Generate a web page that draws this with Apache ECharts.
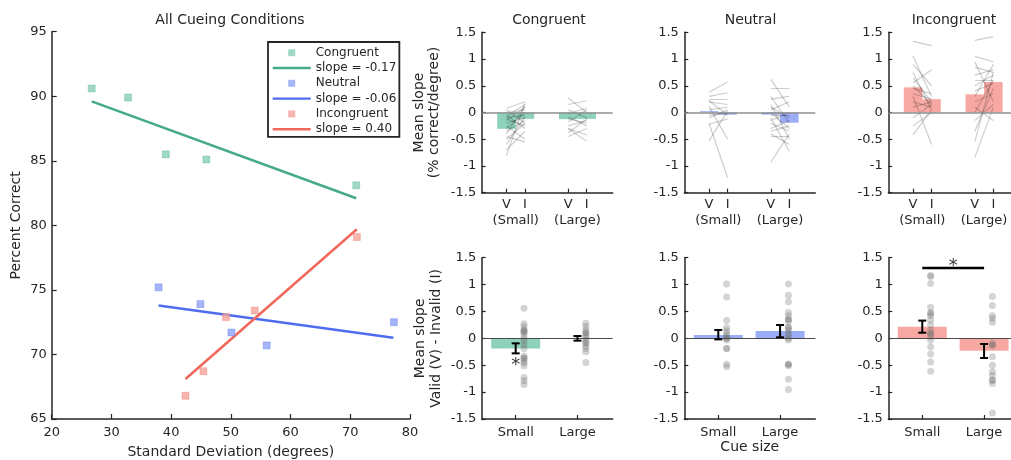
<!DOCTYPE html>
<html>
<head>
<meta charset="utf-8">
<script src="https://cdn.jsdelivr.net/npm/echarts@6/dist/echarts.min.js"></script>
<style>
  html, body { margin: 0; padding: 0; background: #fff; }
  #chart { width: 1011px; height: 460px; }
</style>
</head>
<body>
<div id="chart"></div>
<script>
// ---- left panel: percent correct vs. standard deviation ----
const congSd = [26.7, 32.8, 39.1, 45.9, 71.0];
const congPc = [90.6, 89.9, 85.5, 85.1, 83.1];
const neutSd = [37.9, 44.9, 50.1, 56.0, 77.3];
const neutPc = [75.2, 73.9, 71.7, 70.7, 72.5];
const incSd = [42.4, 45.4, 49.2, 54.0, 71.1];
const incPc = [66.8, 68.7, 72.9, 73.4, 79.1];
// fitted regression lines (end points)
const congFit = [[26.7, 89.6], [71.0, 82.1]];
const neutFit = [[37.9, 73.8], [77.2, 71.3]];
const incFit = [[42.4, 68.1], [71.1, 79.7]];
const condNames = ['Congruent', 'Neutral', 'Incongruent'];
const slopeLabels = ['slope = -0.17', 'slope = -0.06', 'slope = 0.40'];

// ---- top row: mean slope per cue (V, I) and size ----
const topTickPos = [0.85, 1.15, 1.85, 2.15];
const topTickLabels = ['V', 'I', 'V', 'I'];
const topSizeLabels = ['(Small)', '(Large)'];
const meanSlopes = [
  [-0.305, -0.118, -0.125, -0.12],
  [0.025, -0.04, -0.04, -0.19],
  [0.47, 0.25, 0.34, 0.57]
];
// individual subjects (valid, invalid)
const congSmallV = [0.08, 0.05, 0.0, -0.05, -0.08, -0.10, -0.12, -0.15, -0.20, -0.25, -0.30, -0.35, -0.40, -0.45, -0.50, -0.60, -0.70, -0.81];
const congSmallI = [0.20, -0.20, 0.05, -0.30, 0.15, -0.05, -0.25, 0.10, -0.10, -0.50, 0.00, -0.15, 0.12, -0.55, -0.20, -0.08, -0.35, 0.18];
const congLargeV = [0.27, 0.15, 0.05, -0.02, -0.08, -0.12, -0.18, -0.25, -0.30, -0.38, -0.45, -0.30];
const congLargeI = [0.00, 0.22, -0.10, 0.08, -0.25, -0.20, 0.05, -0.15, -0.42, -0.12, -0.30, -0.54];
const neutSmallV = [0.38, 0.30, 0.25, 0.22, 0.20, 0.12, 0.05, -0.05, -0.10, -0.20, -0.22, -0.53];
const neutSmallI = [0.57, 0.37, 0.25, -0.05, 0.15, -0.50, 0.10, -0.02, 0.05, -1.22, -0.12, 0.03];
const neutLargeV = [0.62, 0.45, 0.30, 0.25, 0.15, 0.10, 0.05, 0.00, -0.05, -0.10, -0.15, -0.20, -0.30, -0.40, -0.35, -0.45, -0.93];
const neutLargeI = [0.10, 0.45, -0.20, 0.30, -0.50, -0.10, 0.20, -0.30, -0.05, -0.73, 0.00, -0.35, -0.15, -0.60, -0.25, -0.45, -0.40];
const incSmallV = [1.33, 1.05, 0.90, 0.75, 0.65, 0.55, 0.50, 0.45, 0.35, 0.30, 0.20, 0.10, -0.10, -0.25, -0.42];
const incSmallI = [1.25, 0.30, 0.50, 0.05, 0.20, 0.80, 0.15, 0.35, 0.25, -0.60, 0.10, 0.20, 0.15, 0.00, 0.05];
const incLargeV = [1.35, 1.05, 0.95, 0.85, 0.70, 0.60, 0.50, 0.40, 0.30, 0.20, 0.10, 0.00, -0.15, -0.35, -0.55, -0.84];
const incLargeI = [1.42, 0.95, 0.20, 0.75, 0.80, 0.60, 0.70, 0.55, 0.90, 0.35, -0.15, 0.60, 0.15, 0.45, 0.75, 0.10];

// ---- bottom row: valid - invalid ----
const sizeLabels = ['Small', 'Large'];
const diffMeans = [[-0.19, -0.01], [0.062, 0.136], [0.217, -0.23]];
const errLow = [[-0.279, -0.043], [-0.019, 0.019], [0.105, -0.366]];
const errHigh = [[-0.093, 0.043], [0.155, 0.248], [0.33, -0.105]];
const congSmallDiff = [0.56, 0.27, 0.22, 0.15, 0.15, 0.12, 0.12, 0.06, 0.00, -0.05, -0.12, -0.19, -0.33, -0.37, -0.37, -0.42, -0.46, -0.51, -0.73, -0.79, -0.86];
const congLargeDiff = [0.28, 0.22, 0.155, 0.105, 0.105, 0.056, 0.02, -0.03, -0.08, -0.08, -0.14, -0.19, -0.25, -0.45];
const neutSmallDiff = [1.01, 0.77, 0.33, 0.20, 0.14, 0.09, 0.04, 0.00, 0.00, -0.03, -0.19, -0.19, -0.48, -0.53];
const neutLargeDiff = [1.01, 0.80, 0.68, 0.48, 0.42, 0.35, 0.35, 0.31, 0.20, 0.20, 0.155, 0.09, 0.056, 0.00, -0.03, -0.48, -0.48, -0.51, -0.76, -0.95];
const incSmallDiff = [1.17, 1.15, 1.02, 0.58, 0.47, 0.47, 0.42, 0.34, 0.25, 0.155, 0.09, 0.09, 0.04, -0.03, -0.155, -0.29, -0.44, -0.61];
const incLargeDiff = [0.78, 0.61, 0.42, 0.37, 0.30, -0.09, -0.13, -0.13, -0.34, -0.50, -0.62, -0.69, -0.78, -0.78, -0.84, -1.39];
const sigStar = [[1, -0.40]];          // congruent small
const sigLine = [[1, 1.31], [2, 1.31]]; // incongruent small vs large
const sigLineStar = [[1.5, 1.43]];

const TXT = '#262626';
const lineColors = ['#45aa8a', '#4d6cf0', '#f0685b'];
const markerColors = ['#88cfb4', '#8fa2f6', '#f6a39b'];
const barColors = ['#8dd2b9', '#9badf7', '#f8a8a2'];
const panelLeft = [481.7, 684.3, 888.3];
const X_MIN = 0.45, X_MAX = 2.57;
const DOT_SHIFT = 0.135;

const SQUARE_ICON = 'path://M0,0M38,13M15.5,3L22.5,3L22.5,10L15.5,10Z';
const LINE_ICON = 'path://M0,0M38,13M0,5.3L38,5.3L38,7.7L0,7.7Z';

const leftSets = [
  { sd: congSd, pc: congPc, fit: congFit },
  { sd: neutSd, pc: neutPc, fit: neutFit },
  { sd: incSd, pc: incPc, fit: incFit }
];
const subjects = [
  [[congSmallV, congSmallI], [congLargeV, congLargeI]],
  [[neutSmallV, neutSmallI], [neutLargeV, neutLargeI]],
  [[incSmallV, incSmallI], [incLargeV, incLargeI]]
];
const diffDots = [
  [congSmallDiff, congLargeDiff],
  [neutSmallDiff, neutLargeDiff],
  [incSmallDiff, incLargeDiff]
];

function axisLine() {
  return { show: true, onZero: false, lineStyle: { color: TXT, width: 1.5 } };
}
function axisTick(len, extra) {
  return Object.assign({ show: true, inside: true, length: len, lineStyle: { color: TXT, width: 1.2 } }, extra || {});
}

// 0: left, 1-3: top row, 4-6: bottom row, 7-9: overlays of top row for the size labels
const grid = [{ left: 51.7, top: 31.7, width: 358.3, height: 387.3, outerBoundsMode: 'none' }];
panelLeft.forEach(l => grid.push({ left: l, top: 32.3, width: 131, height: 160.4, outerBoundsMode: 'none' }));
panelLeft.forEach(l => grid.push({ left: l, top: 257.7, width: 131, height: 161.3, outerBoundsMode: 'none' }));
panelLeft.forEach(l => grid.push({ left: l, top: 32.3, width: 131, height: 160.4, outerBoundsMode: 'none' }));

const xAxis = [{
  gridIndex: 0, type: 'value', min: 20, max: 80, interval: 10,
  axisLine: axisLine(), axisTick: axisTick(5), splitLine: { show: false },
  axisLabel: { color: TXT, fontSize: 13, lineHeight: 13, margin: 7.5 },
  name: 'Standard Deviation (degrees)', nameLocation: 'middle', nameGap: 24,
  nameTextStyle: { color: TXT, fontSize: 14, lineHeight: 15 }
}];
const yAxis = [{
  gridIndex: 0, type: 'value', min: 65, max: 95, interval: 5,
  axisLine: axisLine(), axisTick: axisTick(5), splitLine: { show: false },
  axisLabel: { color: TXT, fontSize: 13, margin: 5 },
  name: 'Percent Correct', nameLocation: 'middle', nameRotate: 90, nameGap: 28,
  nameTextStyle: { color: TXT, fontSize: 14, lineHeight: 15 }
}];

for (let c = 0; c < 3; c++) {
  xAxis.push({
    gridIndex: 1 + c, type: 'value', min: X_MIN, max: X_MAX,
    axisLine: axisLine(), axisTick: axisTick(4, { customValues: topTickPos }), splitLine: { show: false },
    axisLabel: {
      color: TXT, fontSize: 13, lineHeight: 13, margin: 5.3, customValues: topTickPos,
      showMinLabel: true, showMaxLabel: true,
      formatter: v => topTickLabels[topTickPos.indexOf(v)]
    }
  });
  yAxis.push({
    gridIndex: 1 + c, type: 'value', min: -1.5, max: 1.5, interval: 0.5,
    axisLine: axisLine(), axisTick: axisTick(4), splitLine: { show: false },
    axisLabel: { color: TXT, fontSize: 13, margin: 5.5 },
    name: c === 0 ? 'Mean slope\n(% correct/degree)' : '', nameLocation: 'middle', nameRotate: 90, nameGap: 40,
    nameTextStyle: { color: TXT, fontSize: 14, lineHeight: 15 }
  });
}
for (let c = 0; c < 3; c++) {
  xAxis.push({
    gridIndex: 4 + c, type: 'value', min: X_MIN, max: X_MAX,
    axisLine: axisLine(), axisTick: axisTick(4, { customValues: [1, 2] }), splitLine: { show: false },
    axisLabel: {
      color: TXT, fontSize: 13, lineHeight: 13, margin: 7.2, customValues: [1, 2],
      showMinLabel: true, showMaxLabel: true,
      formatter: v => sizeLabels[Math.round(v) - 1]
    },
    name: c === 1 ? 'Cue size' : '', nameLocation: 'middle', nameGap: 12.5,
    nameTextStyle: { color: TXT, fontSize: 14, lineHeight: 15 }
  });
  yAxis.push({
    gridIndex: 4 + c, type: 'value', min: -1.5, max: 1.5, interval: 0.5,
    axisLine: axisLine(), axisTick: axisTick(4), splitLine: { show: false },
    axisLabel: { color: TXT, fontSize: 13, margin: 5.5 },
    name: c === 0 ? 'Mean slope\nValid (V) - Invalid (I)' : '', nameLocation: 'middle', nameRotate: 90, nameGap: 37,
    nameTextStyle: { color: TXT, fontSize: 14, lineHeight: 16 }
  });
}
for (let c = 0; c < 3; c++) {
  xAxis.push({
    gridIndex: 7 + c, type: 'value', min: X_MIN, max: X_MAX,
    axisLine: { show: false, onZero: false }, axisTick: { show: false }, splitLine: { show: false },
    axisLabel: {
      color: TXT, fontSize: 13, lineHeight: 13, margin: 21.3, customValues: [1, 2],
      showMinLabel: true, showMaxLabel: true,
      formatter: v => topSizeLabels[Math.round(v) - 1]
    }
  });
  yAxis.push({ gridIndex: 7 + c, type: 'value', min: -1.5, max: 1.5, show: false });
}

function renderErrorBar(params, api) {
  const x = api.value(0);
  const lo = api.coord([x, api.value(1)]);
  const hi = api.coord([x, api.value(2)]);
  const cap = 4;
  const style = { stroke: '#000', lineWidth: 2 };
  return {
    type: 'group', children: [
      { type: 'line', shape: { x1: lo[0], y1: lo[1], x2: hi[0], y2: hi[1] }, style },
      { type: 'line', shape: { x1: lo[0] - cap, y1: lo[1], x2: lo[0] + cap, y2: lo[1] }, style },
      { type: 'line', shape: { x1: hi[0] - cap, y1: hi[1], x2: hi[0] + cap, y2: hi[1] }, style }
    ]
  };
}

function starSeries(xi, yi, data) {
  return {
    type: 'scatter', xAxisIndex: xi, yAxisIndex: yi, data: data, symbolSize: 1, silent: true, z: 6,
    itemStyle: { color: 'rgba(0,0,0,0)' },
    label: { show: true, position: 'inside', formatter: '*', fontSize: 18, color: '#000', offset: [0, 5] }
  };
}

const series = [];
leftSets.forEach((s, c) => {
  series.push({
    type: 'scatter', name: condNames[c], xAxisIndex: 0, yAxisIndex: 0,
    symbol: 'rect', symbolSize: 7, itemStyle: { color: markerColors[c], borderColor: lineColors[c], borderWidth: 0.4 },
    data: s.sd.map((x, i) => [x, s.pc[i]]), z: 3
  });
  series.push({
    type: 'line', name: slopeLabels[c], xAxisIndex: 0, yAxisIndex: 0,
    symbol: 'none', data: s.fit, lineStyle: { color: lineColors[c], width: 2.5 },
    itemStyle: { color: lineColors[c] }, z: 2
  });
});

for (let c = 0; c < 3; c++) {
  // top row
  series.push({
    type: 'bar', xAxisIndex: 1 + c, yAxisIndex: 1 + c, barWidth: 18.5,
    data: topTickPos.map((x, i) => [x, meanSlopes[c][i]]),
    itemStyle: { color: barColors[c] }, z: 2,
    markLine: {
      silent: true, symbol: 'none', label: { show: false },
      lineStyle: { color: '#8f8f8f', width: 1.5, type: 'solid' }, data: [{ yAxis: 0 }]
    }
  });
  const segs = [];
  subjects[c].forEach((pair, g) => {
    const [vArr, iArr] = pair;
    vArr.forEach((v, k) => {
      segs.push({ coords: [[topTickPos[2 * g], v], [topTickPos[2 * g + 1], iArr[k]]] });
    });
  });
  series.push({
    type: 'lines', coordinateSystem: 'cartesian2d', xAxisIndex: 1 + c, yAxisIndex: 1 + c,
    data: segs, silent: true, z: 3,
    lineStyle: { color: 'rgba(30,30,30,0.22)', width: 1.2, opacity: 1 }
  });

  // bottom row
  series.push({
    type: 'bar', xAxisIndex: 4 + c, yAxisIndex: 4 + c, barWidth: 49,
    data: diffMeans[c].map((m, g) => [g + 1, m]),
    itemStyle: { color: barColors[c] }, z: 2,
    markLine: {
      silent: true, symbol: 'none', label: { show: false },
      lineStyle: { color: '#4a4a4a', width: 1, type: 'solid' }, data: [{ yAxis: 0 }]
    }
  });
  const dots = [];
  diffDots[c].forEach((arr, g) => arr.forEach(d => dots.push([g + 1 + DOT_SHIFT, d])));
  series.push({
    type: 'scatter', xAxisIndex: 4 + c, yAxisIndex: 4 + c, data: dots,
    symbolSize: 7, itemStyle: { color: 'rgba(115,115,115,0.38)' }, silent: true, z: 3
  });
  series.push({
    type: 'custom', xAxisIndex: 4 + c, yAxisIndex: 4 + c, renderItem: renderErrorBar,
    data: errLow[c].map((lo, g) => [g + 1, lo, errHigh[c][g]]), silent: true, z: 6
  });
}
series.push(starSeries(4, 4, sigStar));
series.push({
  type: 'line', xAxisIndex: 6, yAxisIndex: 6, data: sigLine, symbol: 'none', silent: true, z: 6,
  lineStyle: { color: '#000', width: 2.5 }
});
series.push(starSeries(6, 6, sigLineStar));

const titleStyle = { color: TXT, fontSize: 14, fontWeight: 'normal' };
const option = {
  animation: false,
  backgroundColor: '#fff',
  textStyle: { fontFamily: 'DejaVu Sans' },
  title: [
    { text: 'All Cueing Conditions', left: 230, top: 20.7 },
    { text: condNames[0], left: 549, top: 20.7 },
    { text: condNames[1], left: 750.5, top: 20.7 },
    { text: condNames[2], left: 954, top: 20.7 }
  ].map(t => Object.assign(t, { textAlign: 'center', textVerticalAlign: 'middle', padding: 0, textStyle: titleStyle })),
  legend: {
    left: 268, top: 42, orient: 'vertical', itemWidth: 38, itemHeight: 13, itemGap: 2.3,
    padding: [4.2, 3, 1.2, 4.7], borderColor: TXT, borderWidth: 1.8, backgroundColor: '#fff',
    selectedMode: false, textStyle: { fontSize: 12, color: TXT },
    data: condNames.flatMap((n, c) => [
      { name: n, icon: SQUARE_ICON, itemStyle: { color: markerColors[c], borderWidth: 0 } },
      { name: slopeLabels[c], icon: LINE_ICON, itemStyle: { color: lineColors[c], borderWidth: 0 } }
    ])
  },
  grid: grid,
  xAxis: xAxis,
  yAxis: yAxis,
  series: series
};

const chart = echarts.init(document.getElementById('chart'));
chart.setOption(option);
</script>
</body>
</html>
